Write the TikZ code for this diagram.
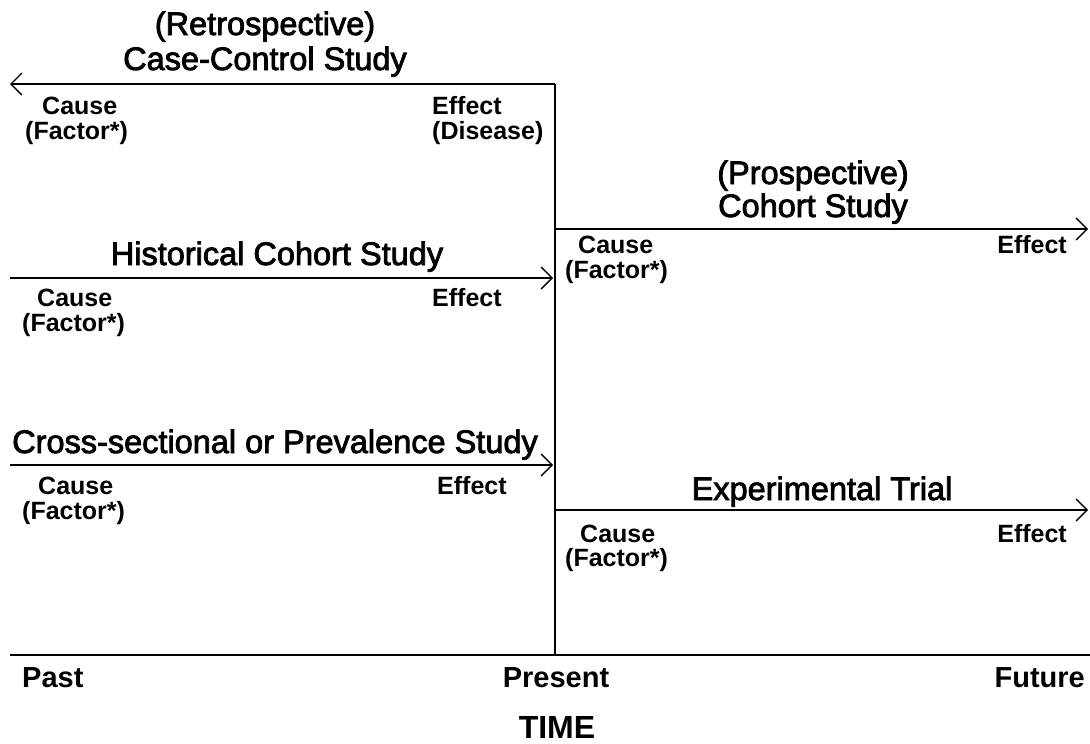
\documentclass[tikz,border=0pt]{standalone}
\usepackage{fontspec}
\setmainfont{Liberation Sans}
\newfontfamily\ttlfont[FakeBold=2.5]{Liberation Sans}
\usetikzlibrary{arrows.meta}
\tikzset{
  lbl/.style={inner sep=0pt, anchor=base west, font=\fontsize{25}{25}\selectfont\bfseries},
  lblr/.style={lbl, anchor=base east},
  ttl/.style={inner sep=0pt, anchor=base, font=\ttlfont\fontsize{32.5}{33}\selectfont},
  axl/.style={inner sep=0pt, anchor=base, font=\fontsize{29}{29}\selectfont\bfseries},
  ln/.style={line width=2pt},
  arr/.style={ln, -{Straight Barb[length=11pt,width=22pt,line width=1.4pt]}},
}
\begin{document}
\begin{tikzpicture}[x=1pt,y=-1pt]
\useasboundingbox (0,0) rectangle (1090,744);
% coordinates
\coordinate (cc0) at (555,84);
\coordinate (cc1) at (10,84);
\coordinate (bot) at (555,655);
\coordinate (pc0) at (555,229);
\coordinate (pc1) at (1088,229);
\coordinate (hc0) at (10,278);
\coordinate (hc1) at (553,278);
\coordinate (cs0) at (10,465);
\coordinate (cs1) at (553,465);
\coordinate (et0) at (555,510);
\coordinate (et1) at (1088,510);
\coordinate (ax0) at (10,655);
\coordinate (ax1) at (1090,655);
% lines
\draw[arr] (cc0) -- (cc1);
\draw[ln] (cc0) -- (bot);
\draw[arr] (pc0) -- (pc1);
\draw[arr] (hc0) -- (hc1);
\draw[arr] (cs0) -- (cs1);
\draw[arr] (et0) -- (et1);
\draw[ln] (ax0) -- (ax1);
% case-control
\node[ttl] (ccT1) at (265,35) {(Retrospective)};
\node[ttl] (ccT2) at (265,70) {Case-Control Study};
\node[lbl] (ccC) at (42,114) {Cause};
\node[lbl] (ccF) at (25,139) {(Factor*)};
\node[lbl] (ccE) at (432,114) {Effect};
\node[lbl] (ccD) at (432,139) {(Disease)};
% prospective
\node[ttl] (pcT1) at (813,184) {(Prospective)};
\node[ttl] (pcT2) at (813,217) {Cohort Study};
\node[lbl] (pcC) at (578,253) {Cause};
\node[lbl] (pcF) at (565,278) {(Factor*)};
\node[lblr] (pcE) at (1067,253) {Effect};
% historical
\node[ttl] (hcT) at (277,265) {Historical Cohort Study};
\node[lbl] (hcC) at (37,306) {Cause};
\node[lbl] (hcF) at (22,331) {(Factor*)};
\node[lbl] (hcE) at (432,306) {Effect};
% cross-sectional
\node[ttl, anchor=base west] (csT) at (12,453) {Cross-sectional or Prevalence Study};
\node[lbl] (csC) at (38,494) {Cause};
\node[lbl] (csF) at (22,519) {(Factor*)};
\node[lbl] (csE) at (437,494) {Effect};
% experimental
\node[ttl] (etT) at (822,500) {Experimental Trial};
\node[lbl] (etC) at (580,542) {Cause};
\node[lbl] (etF) at (565,566) {(Factor*)};
\node[lblr] (etE) at (1067,542) {Effect};
% axis
\node[axl, anchor=base west] (past) at (22,687) {Past};
\node[axl] (present) at (556,687) {Present};
\node[axl, anchor=base east] (future) at (1085,687) {Future};
\node[inner sep=0pt, anchor=base, font=\fontsize{32}{32}\selectfont\bfseries] (time) at (557,738) {TIME};
\end{tikzpicture}
\end{document}
